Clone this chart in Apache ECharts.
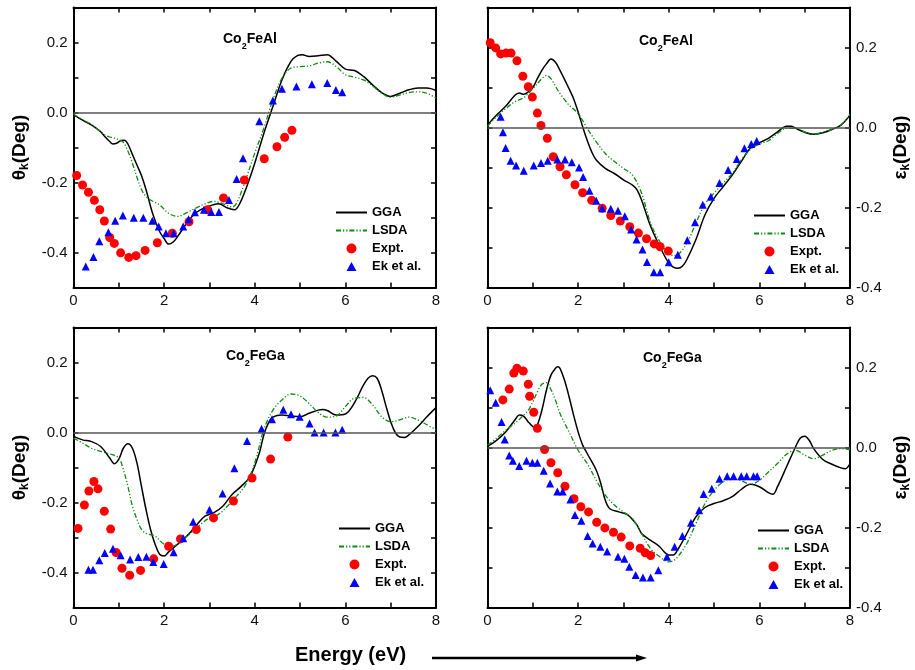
<!DOCTYPE html>
<html>
<head>
<meta charset="utf-8">
<script src="https://cdn.jsdelivr.net/npm/echarts@6/dist/echarts.min.js"></script>
<style>
  html, body { margin: 0; padding: 0; background: #fff; }
  #main { width: 915px; height: 670px; }
</style>
</head>
<body>
<div id="main"></div>
<script>
// ---- data: [energy (eV), value (deg)] ----
// Co2FeAl, Kerr rotation (top left)
const alRotGGA = [[0,-0.007],[0.2,-0.022],[0.4,-0.036],[0.5,-0.045],[0.6,-0.055],[0.7,-0.07],[0.8,-0.083],[0.87,-0.09],[0.95,-0.088],[1.05,-0.08],[1.12,-0.079],[1.2,-0.09],[1.3,-0.12],[1.4,-0.15],[1.5,-0.18],[1.6,-0.22],[1.75,-0.29],[1.9,-0.34],[2.0,-0.36],[2.1,-0.376],[2.2,-0.37],[2.3,-0.354],[2.5,-0.316],[2.65,-0.292],[2.8,-0.278],[3.0,-0.267],[3.2,-0.261],[3.4,-0.273],[3.55,-0.278],[3.65,-0.265],[3.8,-0.22],[4.0,-0.145],[4.2,-0.06],[4.4,0.017],[4.6,0.093],[4.8,0.146],[4.95,0.163],[5.05,0.165],[5.2,0.16],[5.4,0.162],[5.6,0.165],[5.8,0.146],[6.0,0.124],[6.2,0.12],[6.4,0.103],[6.6,0.079],[6.8,0.057],[7.0,0.046],[7.2,0.055],[7.4,0.065],[7.6,0.07],[7.8,0.07],[8.0,0.063]];
const alRotLSDA = [[0,-0.005],[0.2,-0.02],[0.4,-0.035],[0.5,-0.045],[0.6,-0.055],[0.7,-0.065],[0.8,-0.07],[0.9,-0.073],[1.0,-0.078],[1.1,-0.085],[1.2,-0.11],[1.3,-0.145],[1.4,-0.185],[1.5,-0.22],[1.6,-0.24],[1.7,-0.25],[1.9,-0.264],[2.1,-0.288],[2.3,-0.297],[2.5,-0.286],[2.7,-0.273],[2.9,-0.261],[3.1,-0.254],[3.3,-0.261],[3.5,-0.27],[3.6,-0.259],[3.8,-0.192],[4.0,-0.116],[4.2,-0.045],[4.4,0.036],[4.6,0.098],[4.8,0.127],[5.0,0.131],[5.2,0.133],[5.4,0.141],[5.6,0.145],[5.8,0.131],[6.0,0.108],[6.2,0.101],[6.4,0.093],[6.6,0.076],[6.8,0.055],[7.0,0.044],[7.2,0.05],[7.4,0.057],[7.6,0.059],[7.8,0.055],[8.0,0.041]];
const alRotExpt = [[0.07,-0.18],[0.2,-0.207],[0.33,-0.228],[0.46,-0.251],[0.58,-0.278],[0.68,-0.31],[0.8,-0.357],[0.9,-0.374],[1.04,-0.401],[1.22,-0.414],[1.38,-0.409],[1.58,-0.394],[1.85,-0.372],[2.18,-0.345],[2.55,-0.312],[2.96,-0.278],[3.31,-0.244],[3.77,-0.193],[4.21,-0.132],[4.49,-0.098],[4.66,-0.071],[4.82,-0.051]];
const alRotEk = [[0.27,-0.44],[0.44,-0.413],[0.57,-0.368],[0.77,-0.342],[0.92,-0.309],[1.09,-0.294],[1.33,-0.301],[1.54,-0.301],[1.74,-0.309],[1.88,-0.326],[2.04,-0.345],[2.21,-0.345],[2.42,-0.326],[2.54,-0.305],[2.68,-0.285],[2.88,-0.278],[3.04,-0.284],[3.21,-0.284],[3.43,-0.25],[3.6,-0.19],[3.74,-0.131],[4.1,-0.025],[4.4,0.034],[4.6,0.068],[4.92,0.074],[5.26,0.081],[5.6,0.084],[5.79,0.064],[5.93,0.058]];

// Co2FeAl, Kerr ellipticity (top right)
const alEllGGA = [[0,0.006],[0.2,0.031],[0.4,0.053],[0.6,0.08],[0.7,0.086],[0.8,0.083],[0.9,0.089],[1.0,0.1],[1.1,0.122],[1.2,0.143],[1.3,0.159],[1.4,0.171],[1.5,0.163],[1.6,0.143],[1.8,0.097],[1.9,0.072],[2.0,0.039],[2.1,0.002],[2.2,-0.032],[2.3,-0.061],[2.4,-0.081],[2.6,-0.102],[2.8,-0.115],[3.0,-0.131],[3.2,-0.144],[3.3,-0.156],[3.4,-0.181],[3.6,-0.247],[3.8,-0.297],[4.0,-0.339],[4.1,-0.349],[4.2,-0.352],[4.3,-0.347],[4.4,-0.33],[4.6,-0.28],[4.8,-0.218],[5.0,-0.177],[5.2,-0.148],[5.4,-0.119],[5.6,-0.085],[5.8,-0.052],[6.0,-0.038],[6.2,-0.027],[6.4,-0.011],[6.6,0.003],[6.7,0.003],[6.8,-0.002],[7.0,-0.012],[7.2,-0.017],[7.4,-0.013],[7.6,-0.005],[7.8,0.006],[8.0,0.031]];
const alEllLSDA = [[0,0.003],[0.2,0.027],[0.4,0.047],[0.6,0.064],[0.8,0.075],[1.0,0.097],[1.2,0.122],[1.3,0.13],[1.4,0.122],[1.5,0.103],[1.6,0.085],[1.8,0.056],[2.0,0.035],[2.2,-0.002],[2.4,-0.036],[2.6,-0.065],[2.8,-0.085],[3.0,-0.102],[3.2,-0.119],[3.4,-0.164],[3.6,-0.239],[3.8,-0.285],[4.0,-0.314],[4.1,-0.32],[4.2,-0.318],[4.4,-0.289],[4.6,-0.239],[4.8,-0.191],[5.0,-0.164],[5.2,-0.139],[5.4,-0.115],[5.6,-0.081],[5.8,-0.055],[6.0,-0.041],[6.2,-0.033],[6.4,-0.015],[6.6,-0.002],[6.8,-0.002],[7.0,-0.011],[7.2,-0.017],[7.4,-0.013],[7.6,-0.005],[7.8,0.007],[8.0,0.033]];
const alEllExpt = [[0.06,0.212],[0.18,0.199],[0.29,0.184],[0.41,0.186],[0.52,0.186],[0.65,0.167],[0.78,0.128],[0.9,0.102],[0.99,0.076],[1.1,0.036],[1.18,0.005],[1.32,-0.027],[1.45,-0.073],[1.6,-0.098],[1.74,-0.118],[1.93,-0.143],[2.1,-0.163],[2.3,-0.182],[2.53,-0.202],[2.72,-0.22],[2.93,-0.234],[3.14,-0.248],[3.33,-0.264],[3.51,-0.278],[3.68,-0.291],[3.81,-0.298],[3.99,-0.309]];
const alEllEk = [[0.29,0.027],[0.34,-0.012],[0.4,-0.051],[0.51,-0.083],[0.63,-0.095],[0.8,-0.108],[1.02,-0.095],[1.18,-0.089],[1.33,-0.083],[1.54,-0.08],[1.71,-0.08],[1.86,-0.087],[2.02,-0.1],[2.11,-0.124],[2.25,-0.158],[2.4,-0.183],[2.53,-0.202],[2.72,-0.203],[2.88,-0.208],[3.03,-0.222],[3.17,-0.255],[3.29,-0.28],[3.42,-0.305],[3.52,-0.336],[3.67,-0.362],[3.81,-0.362],[4.0,-0.337],[4.2,-0.318],[4.41,-0.282],[4.58,-0.237],[4.75,-0.193],[4.93,-0.173],[5.12,-0.139],[5.31,-0.106],[5.5,-0.079],[5.67,-0.052],[5.82,-0.041],[5.94,-0.034]];

// Co2FeGa, Kerr rotation (bottom left)
const gaRotGGA = [[0,-0.011],[0.2,-0.021],[0.4,-0.026],[0.6,-0.04],[0.8,-0.073],[0.9,-0.089],[1.0,-0.076],[1.1,-0.045],[1.2,-0.032],[1.3,-0.045],[1.4,-0.087],[1.5,-0.154],[1.6,-0.22],[1.7,-0.277],[1.8,-0.319],[1.9,-0.348],[2.0,-0.353],[2.1,-0.341],[2.3,-0.319],[2.5,-0.296],[2.7,-0.267],[2.9,-0.239],[3.1,-0.229],[3.3,-0.21],[3.5,-0.177],[3.7,-0.154],[3.9,-0.125],[4.1,-0.059],[4.2,-0.007],[4.3,0.027],[4.4,0.044],[4.6,0.05],[4.8,0.047],[5.0,0.045],[5.2,0.055],[5.4,0.064],[5.5,0.066],[5.6,0.063],[5.8,0.05],[6.0,0.053],[6.2,0.085],[6.4,0.136],[6.5,0.155],[6.6,0.162],[6.7,0.155],[6.8,0.121],[6.9,0.074],[7.0,0.031],[7.1,0],[7.2,-0.013],[7.3,-0.014],[7.4,-0.007],[7.6,0.017],[7.8,0.045],[8.0,0.071]];
const gaRotLSDA = [[0,-0.016],[0.2,-0.03],[0.4,-0.045],[0.6,-0.054],[0.8,-0.061],[1.0,-0.073],[1.1,-0.106],[1.2,-0.154],[1.3,-0.21],[1.4,-0.248],[1.5,-0.277],[1.6,-0.288],[1.8,-0.296],[2.0,-0.319],[2.2,-0.324],[2.4,-0.305],[2.6,-0.286],[2.8,-0.263],[3.0,-0.244],[3.2,-0.234],[3.4,-0.21],[3.6,-0.182],[3.8,-0.149],[4.0,-0.087],[4.2,0.008],[4.4,0.064],[4.6,0.093],[4.8,0.11],[5.0,0.104],[5.2,0.083],[5.4,0.057],[5.6,0.044],[5.8,0.047],[6.0,0.074],[6.2,0.098],[6.4,0.1],[6.6,0.079],[6.8,0.045],[7.0,0.031],[7.2,0.036],[7.4,0.044],[7.6,0.036],[7.8,0.022],[8.0,0.008]];
const gaRotExpt = [[0.1,-0.274],[0.24,-0.207],[0.34,-0.167],[0.45,-0.14],[0.54,-0.161],[0.68,-0.225],[0.82,-0.276],[0.94,-0.343],[1.07,-0.388],[1.24,-0.408],[1.48,-0.394],[1.77,-0.361],[2.1,-0.325],[2.36,-0.304],[2.71,-0.277],[3.09,-0.244],[3.53,-0.196],[3.94,-0.13],[4.35,-0.076],[4.73,-0.013]];
const gaRotEk = [[0.33,-0.392],[0.43,-0.392],[0.57,-0.365],[0.69,-0.344],[0.87,-0.332],[1.04,-0.351],[1.25,-0.363],[1.43,-0.356],[1.61,-0.355],[1.76,-0.37],[1.99,-0.376],[2.21,-0.342],[2.42,-0.302],[2.64,-0.255],[3.0,-0.221],[3.29,-0.174],[3.55,-0.102],[3.83,-0.024],[4.15,0.011],[4.38,0.038],[4.63,0.065],[4.8,0.052],[4.99,0.045],[5.21,0.026],[5.32,0],[5.52,0],[5.78,0],[5.93,0.008]];

// Co2FeGa, Kerr ellipticity (bottom right)
const gaEllGGA = [[0,0.003],[0.2,0.018],[0.4,0.039],[0.6,0.068],[0.7,0.081],[0.8,0.078],[0.9,0.064],[1.0,0.052],[1.05,0.05],[1.1,0.056],[1.2,0.093],[1.3,0.143],[1.4,0.181],[1.5,0.198],[1.55,0.202],[1.6,0.198],[1.7,0.168],[1.8,0.127],[1.9,0.081],[2.0,0.039],[2.1,0.006],[2.2,-0.015],[2.4,-0.057],[2.5,-0.09],[2.6,-0.132],[2.7,-0.153],[2.9,-0.161],[3.1,-0.169],[3.3,-0.194],[3.4,-0.215],[3.6,-0.232],[3.8,-0.248],[3.9,-0.261],[4.0,-0.269],[4.1,-0.269],[4.2,-0.255],[4.4,-0.215],[4.6,-0.173],[4.8,-0.15],[5.0,-0.14],[5.2,-0.133],[5.4,-0.123],[5.6,-0.105],[5.8,-0.092],[6.0,-0.098],[6.2,-0.113],[6.3,-0.117],[6.4,-0.098],[6.6,-0.048],[6.8,0.002],[6.9,0.023],[7.0,0.028],[7.1,0.018],[7.2,-0.003],[7.4,-0.03],[7.6,-0.042],[7.8,-0.051],[7.9,-0.053],[8.0,-0.04]];
const gaEllLSDA = [[0,0.006],[0.2,0.023],[0.4,0.043],[0.6,0.06],[0.8,0.081],[0.9,0.093],[1.0,0.114],[1.1,0.139],[1.2,0.158],[1.3,0.162],[1.4,0.145],[1.5,0.118],[1.6,0.085],[1.8,0.039],[2.0,-0.007],[2.2,-0.04],[2.4,-0.082],[2.6,-0.119],[2.8,-0.144],[3.0,-0.161],[3.2,-0.178],[3.4,-0.215],[3.6,-0.253],[3.8,-0.273],[4.0,-0.286],[4.1,-0.283],[4.2,-0.273],[4.4,-0.24],[4.6,-0.19],[4.8,-0.14],[5.0,-0.107],[5.2,-0.086],[5.4,-0.078],[5.6,-0.083],[5.8,-0.092],[6.0,-0.082],[6.2,-0.061],[6.4,-0.04],[6.6,-0.017],[6.8,-0.007],[7.0,-0.019],[7.2,-0.028],[7.4,-0.019],[7.6,-0.007],[7.8,-0.003],[8.0,-0.005]];
const gaEllExpt = [[0.34,0.119],[0.48,0.146],[0.58,0.186],[0.65,0.198],[0.79,0.191],[0.9,0.158],[0.93,0.128],[1.02,0.088],[1.1,0.048],[1.26,-0.005],[1.4,-0.038],[1.55,-0.063],[1.71,-0.097],[1.91,-0.128],[2.06,-0.148],[2.23,-0.161],[2.41,-0.187],[2.59,-0.201],[2.78,-0.212],[2.95,-0.224],[3.14,-0.246],[3.37,-0.252],[3.48,-0.263],[3.6,-0.27]];
const gaEllEk = [[0.06,0.143],[0.18,0.112],[0.31,0.064],[0.38,0.02],[0.48,-0.02],[0.56,-0.033],[0.7,-0.046],[0.86,-0.033],[0.99,-0.038],[1.1,-0.038],[1.24,-0.058],[1.38,-0.09],[1.54,-0.11],[1.66,-0.11],[1.83,-0.13],[1.93,-0.169],[2.07,-0.183],[2.21,-0.221],[2.32,-0.24],[2.49,-0.248],[2.64,-0.26],[2.88,-0.273],[3.02,-0.278],[3.13,-0.298],[3.27,-0.319],[3.43,-0.325],[3.6,-0.325],[3.77,-0.307],[3.96,-0.273],[4.13,-0.248],[4.3,-0.221],[4.49,-0.188],[4.67,-0.157],[4.77,-0.116],[4.95,-0.103],[5.12,-0.078],[5.29,-0.072],[5.43,-0.072],[5.6,-0.072],[5.72,-0.072],[5.87,-0.072],[5.95,-0.072]];

const panelTitles = ['Co{s|2}FeAl', 'Co{s|2}FeAl', 'Co{s|2}FeGa', 'Co{s|2}FeGa'];

const FONT = '"Liberation Sans", Arial, Helvetica, sans-serif';

// legend entries: lines without a marker, a round dot, a small triangle
const noMarker = { color: 'rgba(0,0,0,0)', borderWidth: 0, opacity: 0 };
const legendItems = [
  { name: 'GGA', itemStyle: noMarker },
  { name: 'LSDA', itemStyle: noMarker },
  { name: 'Expt.', icon: 'circle' },
  { name: 'Ek et al.', icon: 'path://M0,9L0,9M31,9L31,9M10.5,9L15.5,0L20.5,9Z' }
];

// panel boxes (px) and y ranges
const panels = [
  { left: 73.5, top: 7.5, side: 'left', ymin: -0.5, name: 'θ{s|k}(Deg)', data: [alRotGGA, alRotLSDA, alRotExpt, alRotEk], tl: 223, tt: 28, lg: [335, 206] },
  { left: 487.5, top: 7.5, side: 'right', ymin: -0.4, name: 'ε{s|k}(Deg)', data: [alEllGGA, alEllLSDA, alEllExpt, alEllEk], tl: 639, tt: 30, lg: [753, 209] },
  { left: 73.5, top: 327.5, side: 'left', ymin: -0.5, name: 'θ{s|k}(Deg)', data: [gaRotGGA, gaRotLSDA, gaRotExpt, gaRotEk], tl: 226, tt: 345, lg: [338, 522] },
  { left: 487.5, top: 327.5, side: 'right', ymin: -0.4, name: 'ε{s|k}(Deg)', data: [gaEllGGA, gaEllLSDA, gaEllExpt, gaEllEk], tl: 643, tt: 347, lg: [757, 524] }
];

const PW = 362.5, PH = 280;

function yLabel(v) {
  const r = Math.round(v * 10);
  if (r % 2 !== 0) return '';
  return (r / 10).toFixed(1);
}

const grid = [], xAxis = [], yAxis = [], series = [], legend = [], title = [];

panels.forEach((p, i) => {
  grid.push({ left: p.left, top: p.top, width: PW, height: PH });

  const lineAx = { show: true, onZero: false, lineStyle: { color: '#000', width: 2 } };
  const tick = { show: true, inside: true, length: 5, lineStyle: { color: '#000', width: 1.5 } };

  xAxis.push({
    gridIndex: i, type: 'value', position: 'bottom', min: 0, max: 8, interval: 1,
    axisLine: lineAx, axisTick: tick, splitLine: { show: false },
    axisLabel: { margin: 6, color: '#111', fontSize: 15, fontFamily: FONT,
      formatter: v => (v % 2 === 0 ? String(v) : '') }
  });
  xAxis.push({
    gridIndex: i, type: 'value', position: 'top', min: 0, max: 8, interval: 1,
    axisLine: lineAx, axisTick: tick, splitLine: { show: false }, axisLabel: { show: false }
  });

  const other = p.side === 'left' ? 'right' : 'left';
  yAxis.push({
    gridIndex: i, type: 'value', position: p.side, min: p.ymin, max: 0.3, interval: 0.1,
    axisLine: lineAx, axisTick: tick, splitLine: { show: false },
    axisLabel: { margin: 6, color: '#111', fontSize: 15, fontFamily: FONT, formatter: yLabel },
    name: p.name, nameLocation: 'middle', nameRotate: 90,
    nameGap: p.side === 'left' ? 43 : 40,
    nameTextStyle: {
      fontSize: 19, fontWeight: 'bold', color: '#000', fontFamily: FONT,
      rich: { s: { fontSize: 12, fontWeight: 'bold', color: '#000', fontFamily: FONT, padding: [10, 0, 0, 0] } }
    }
  });
  yAxis.push({
    gridIndex: i, type: 'value', position: other, min: p.ymin, max: 0.3, interval: 0.1,
    axisLine: lineAx, axisTick: tick, splitLine: { show: false }, axisLabel: { show: false }
  });

  const xi = i * 2, yi = i * 2;
  series.push({
    name: 'GGA', type: 'line', xAxisIndex: xi, yAxisIndex: yi, data: p.data[0],
    symbol: 'none', smooth: 0.35, lineStyle: { color: '#000', width: 1.5 }, itemStyle: { color: '#000' },
    z: 3,
    markLine: {
      silent: true, symbol: ['none', 'none'], label: { show: false },
      lineStyle: { color: '#555', width: 1.5, type: 'solid' },
      data: [{ yAxis: 0 }]
    }
  });
  series.push({
    name: 'LSDA', type: 'line', xAxisIndex: xi, yAxisIndex: yi, data: p.data[1],
    symbol: 'none', smooth: 0.35, z: 3,
    lineStyle: { color: '#118a11', width: 1.3, type: [5, 2, 1.2, 2, 1.2, 2] }, itemStyle: { color: '#118a11' }
  });
  series.push({
    name: 'Expt.', type: 'scatter', xAxisIndex: xi, yAxisIndex: yi, data: p.data[2],
    symbol: 'circle', symbolSize: 9, itemStyle: { color: '#ff0000', opacity: 1 }, z: 4
  });
  series.push({
    name: 'Ek et al.', type: 'scatter', xAxisIndex: xi, yAxisIndex: yi, data: p.data[3],
    symbol: 'triangle', symbolSize: 8, itemStyle: { color: '#0000ff', opacity: 1 }, z: 4
  });

  legend.push({
    data: legendItems, orient: 'vertical', left: p.lg[0], top: p.lg[1], padding: 0,
    itemWidth: 31, itemHeight: 10, itemGap: 5,
    textStyle: { fontSize: 13, fontWeight: 'bold', color: '#000', fontFamily: FONT }
  });

  title.push({
    text: panelTitles[i], left: p.tl, top: p.tt, padding: 0,
    textStyle: {
      fontSize: 14, fontWeight: 'bold', color: '#000', fontFamily: FONT,
      rich: { s: { fontSize: 9, fontWeight: 'bold', color: '#000', fontFamily: FONT, padding: [14, 0, 0, 0] } }
    }
  });
});

title.push({
  text: 'Energy (eV)', left: 295, top: 645, padding: 0,
  textStyle: { fontSize: 20, fontWeight: 'bold', color: '#000', fontFamily: FONT }
});

const chart = echarts.init(document.getElementById('main'), null, { renderer: 'canvas' });
chart.setOption({
  animation: false,
  backgroundColor: '#fff',
  title: title,
  legend: legend,
  grid: grid,
  xAxis: xAxis,
  yAxis: yAxis,
  series: series,
  graphic: [
    { type: 'line', shape: { x1: 432, y1: 658, x2: 640, y2: 658 }, style: { stroke: '#000', lineWidth: 2.5 } },
    { type: 'polygon', shape: { points: [[636, 654.5], [647, 658], [636, 661.5]] }, style: { fill: '#000' } }
  ]
});
</script>
</body>
</html>
